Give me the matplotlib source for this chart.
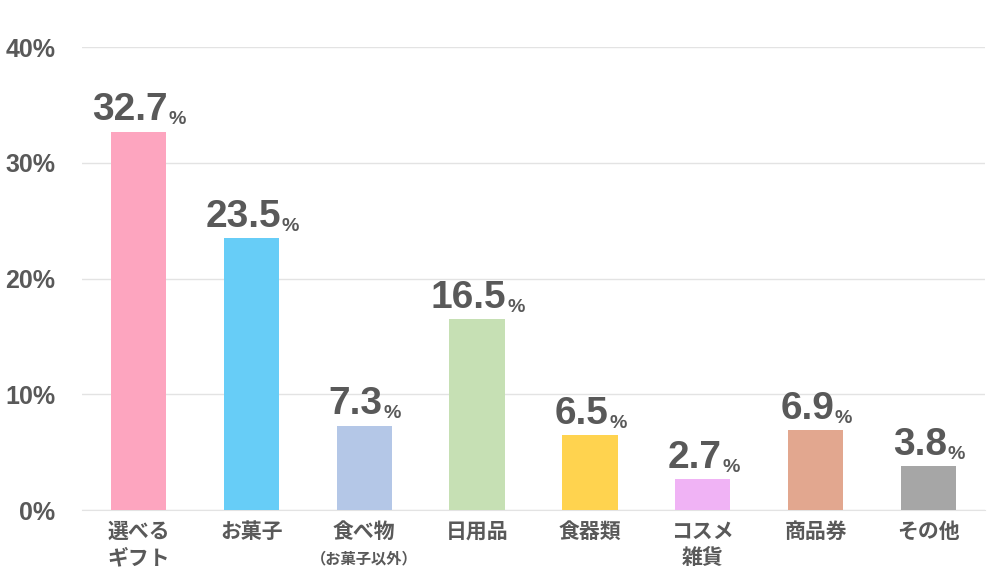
import matplotlib
matplotlib.use("Agg")
import matplotlib.pyplot as plt

categories = ["選べる\nギフト", "お菓子", "食べ物", "日用品", "食器類", "コスメ\n雑貨", "商品券", "その他"]
sub_labels = ["", "", "（お菓子以外）", "", "", "", "", ""]
values = [32.7, 23.5, 7.3, 16.5, 6.5, 2.7, 6.9, 3.8]
colors = ["#FDA5BF", "#67CDF7", "#B4C7E7", "#C6E0B4", "#FFD34F", "#F0B3F5", "#E2A78F", "#A6A6A6"]
yticks = [0, 10, 20, 30, 40]
ytick_labels = ["0%", "10%", "20%", "30%", "40%"]

TXT = "#595959"
plt.rcParams['font.family'] = ['Liberation Sans', 'Noto Sans CJK JP', 'DejaVu Sans']

fig = plt.figure(figsize=(10, 5.84), dpi=100)
ax = fig.add_axes([0.082, 0.1267, 0.903, 0.7928])
x = list(range(len(categories)))
ax.bar(x, values, width=0.49, color=colors, zorder=3)
ax.set_xlim(-0.5, len(categories) - 0.5)
ax.set_ylim(0, 40)
ax.set_yticks(yticks)
ax.set_yticklabels(ytick_labels, fontsize=18, fontweight='bold', color=TXT)
ax.grid(axis='y', color='#E3E3E3', linewidth=1, zorder=0)
for s in ['left', 'right', 'top']:
    ax.spines[s].set_visible(False)
ax.spines['bottom'].set_color('#E3E3E3')
ax.tick_params(axis='y', length=0, pad=19)
ax.tick_params(axis='x', length=0, pad=8)
ax.set_xticks(x)
ax.set_xticklabels(categories, fontsize=15, fontweight='bold', color=TXT,
                   family=['Noto Sans CJK JP', 'DejaVu Sans'], linespacing=1.3)

for xi, s in zip(x, sub_labels):
    if s:
        ax.annotate(s, xy=(xi, 0), xytext=(0, -29), textcoords='offset points',
                    ha='center', va='top', fontsize=11, fontweight='bold', color=TXT,
                    family=['Noto Sans CJK JP', 'DejaVu Sans'])

for xi, v in zip(x, values):
    t = ax.annotate(f"{v:.1f}", xy=(xi, v), xytext=(-6, 8), textcoords='offset points',
                    ha='center', va='baseline', fontsize=28, fontweight='bold', color=TXT)
    ax.annotate("%", xy=(1, 0), xycoords=t, xytext=(0.5, 0), textcoords='offset points',
                ha='left', va='bottom', fontsize=14, fontweight='bold', color=TXT)

fig.savefig("out.png", dpi=100)
